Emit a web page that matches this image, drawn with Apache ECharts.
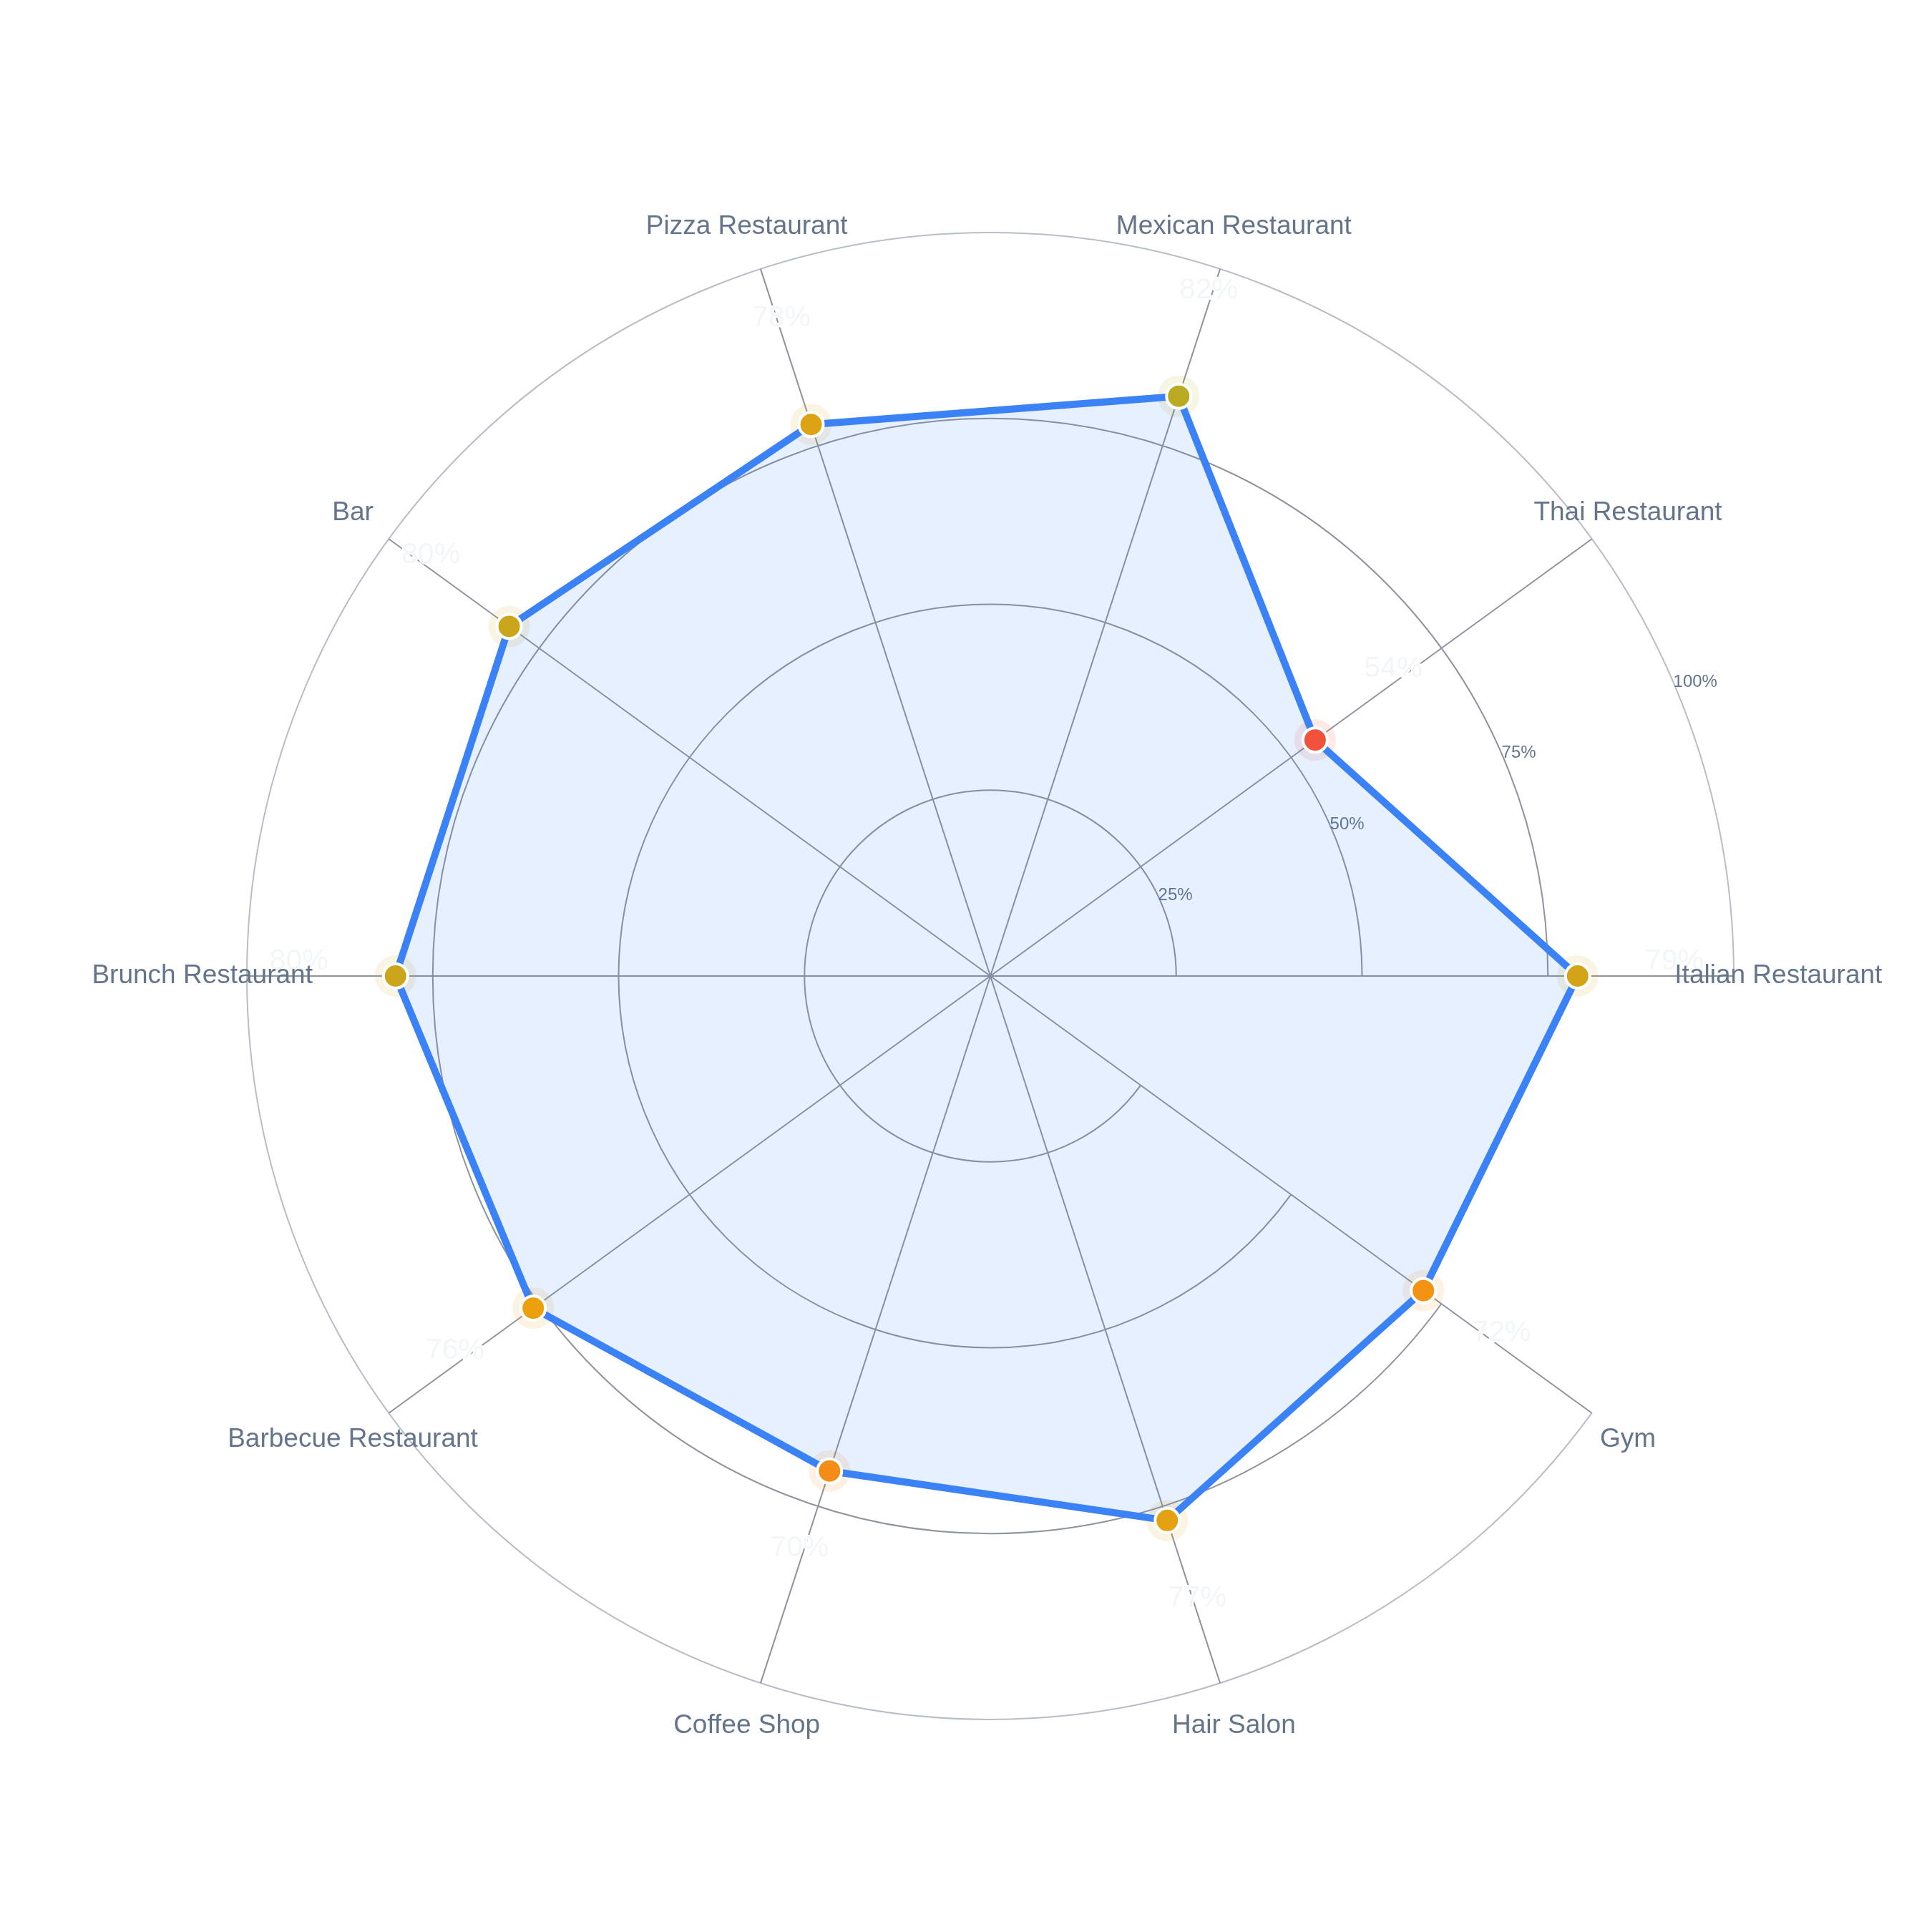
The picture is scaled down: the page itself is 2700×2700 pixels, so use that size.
<!DOCTYPE html>
<html>
<head>
<meta charset="utf-8">
<title>Category score radar</title>
<script src="https://cdn.jsdelivr.net/npm/echarts@6/dist/echarts.min.js"></script>
<style>
  html, body { margin: 0; padding: 0; background: #fff; }
  #main { width: 2700px; height: 2700px; }
</style>
</head>
<body>
<div id="main"></div>
<script>
// data
const categories = [
  "Italian Restaurant", "Thai Restaurant", "Mexican Restaurant", "Pizza Restaurant", "Bar",
  "Brunch Restaurant", "Barbecue Restaurant", "Coffee Shop", "Hair Salon", "Gym"
];
const scores = [79, 54, 82, 78, 80, 80, 76, 70, 77, 72];
const radiusTicks = [0, 25, 50, 75, 100];

const FONT = "'Liberation Sans', Arial, Helvetica, sans-serif";
const CENTER = [1384, 1364];
const RADIUS = 1039;

const points = scores.map((v, i) => [v, i]);

const chart = echarts.init(document.getElementById("main"), null, { renderer: "canvas" });

const option = {
  backgroundColor: "#ffffff",
  animation: false,
  polar: [
    { center: CENTER, radius: RADIUS },
    { center: CENTER, radius: RADIUS }
  ],
  angleAxis: [
    {
      polarIndex: 0,
      type: "category",
      data: categories,
      startAngle: 0,
      clockwise: false,
      boundaryGap: false,
      axisLine: { show: false },
      axisTick: { show: false },
      axisLabel: { show: false },
      splitLine: { show: true, lineStyle: { color: "#8e939c", width: 2 } }
    },
    {
      // only used to tilt the percentage labels
      polarIndex: 1,
      type: "value",
      startAngle: 22.5,
      show: false
    }
  ],
  radiusAxis: [
    {
      polarIndex: 0,
      min: radiusTicks[0],
      max: radiusTicks[radiusTicks.length - 1],
      interval: 25,
      axisLine: { show: false },
      axisTick: { show: false },
      axisLabel: { show: false },
      splitLine: {
        show: true,
        lineStyle: { color: ["#8e939c", "#8e939c", "#8e939c", "#8e939c", "#b9bdc5"], width: 2 }
      }
    },
    {
      polarIndex: 1,
      min: radiusTicks[0],
      max: radiusTicks[radiusTicks.length - 1],
      interval: 25,
      axisLine: { show: false },
      axisTick: { show: false },
      splitLine: { show: false },
      axisLabel: {
        show: true,
        color: "#64748b",
        fontSize: 24,
        fontFamily: FONT,
        align: "left",
        verticalAlign: "middle",
        margin: 14,
        formatter: v => (v === 0 ? "" : v + "%")
      }
    }
  ],
  visualMap: {
    type: "continuous",
    show: false,
    min: 50,
    max: 100,
    dimension: 0,
    seriesIndex: [1, 2],
    inRange: { color: ["#ef4444", "#f59e0b", "#22c55e"] }
  },
  series: [
    {
      // closed outline + fill, built through the polar scales
      name: "Score",
      type: "custom",
      coordinateSystem: "polar",
      polarIndex: 0,
      data: [points[0]],
      z: 3,
      silent: true,
      renderItem: (params, api) => {
        const pts = scores.map((v, i) => api.coord([v, i]));
        return {
          type: "polygon",
          shape: { points: pts },
          style: {
            fill: "rgba(59,130,246,0.12)",
            stroke: "#3b82f6",
            lineWidth: 10,
            lineJoin: "round"
          }
        };
      }
    },
    {
      name: "halo",
      type: "scatter",
      coordinateSystem: "polar",
      polarIndex: 0,
      data: points,
      symbol: "circle",
      symbolSize: 58,
      z: 2,
      silent: true,
      itemStyle: { opacity: 0.12 }
    },
    {
      name: "dots",
      type: "scatter",
      coordinateSystem: "polar",
      polarIndex: 0,
      data: points,
      symbol: "circle",
      symbolSize: 34,
      z: 4,
      itemStyle: { borderColor: "#ffffff", borderWidth: 4, opacity: 1 }
    },
    {
      name: "values",
      type: "custom",
      coordinateSystem: "polar",
      polarIndex: 0,
      data: points,
      z: 5,
      silent: true,
      renderItem: (params, api) => {
        const p = api.coord([api.value(0) + 13, api.value(1)]);
        return {
          type: "text",
          x: p[0],
          y: p[1] - 20,
          style: {
            text: api.value(0) + "%",
            fill: "#f3f6f9",
            stroke: "#ffffff",
            lineWidth: 4,
            fontSize: 41,
            fontFamily: FONT,
            align: "center",
            verticalAlign: "middle"
          }
        };
      }
    },
    {
      name: "names",
      type: "custom",
      coordinateSystem: "polar",
      polarIndex: 0,
      data: points,
      z: 6,
      silent: true,
      renderItem: (params, api) => {
        const p = api.coord([106, api.value(1)]);
        return {
          type: "text",
          x: p[0],
          y: p[1],
          style: {
            text: categories[params.dataIndex],
            fill: "#64748b",
            fontSize: 37,
            fontFamily: FONT,
            align: "center",
            verticalAlign: "middle"
          }
        };
      }
    }
  ]
};

chart.setOption(option);
window.onresize = chart.resize;
</script>
</body>
</html>
